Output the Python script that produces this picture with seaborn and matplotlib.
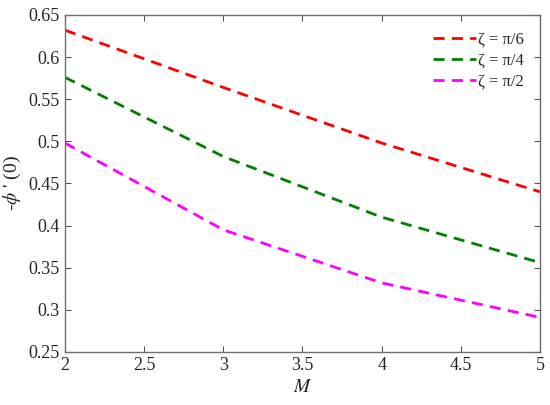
import matplotlib
matplotlib.use("Agg")
import matplotlib.pyplot as plt
import seaborn as sns
import pandas as pd

M = [2, 3, 4, 5]
zeta_pi6 = [0.632, 0.564, 0.498, 0.440]
zeta_pi4 = [0.576, 0.482, 0.410, 0.356]
zeta_pi2 = [0.498, 0.395, 0.332, 0.291]
labels = ["ζ = π/6", "ζ = π/4", "ζ = π/2"]
colors = ["#ff0000", "#008000", "#ff00ff"]

df = pd.DataFrame({
    "M": M * 3,
    "value": zeta_pi6 + zeta_pi4 + zeta_pi2,
    "case": [labels[0]] * 4 + [labels[1]] * 4 + [labels[2]] * 4,
})

sns.set_style("white")
plt.rcParams["font.family"] = ["Liberation Serif", "DejaVu Serif"]
plt.rcParams["mathtext.fontset"] = "stix"

fig = plt.figure(figsize=(5.5, 4.05), dpi=100)
ax = fig.add_axes([0.118, 0.131, 0.864, 0.832])

for lab, col in zip(labels, colors):
    sns.lineplot(data=df[df["case"] == lab], x="M", y="value", color=col,
                 linewidth=2, label=lab, ax=ax, dashes=False)
for line in ax.get_lines():
    line.set_dashes((4, 2.6))

ax.set_xlim(2, 5)
ax.set_ylim(0.25, 0.65)
ax.set_xticks([2, 2.5, 3, 3.5, 4, 4.5, 5])
ax.set_xticklabels(["2", "2.5", "3", "3.5", "4", "4.5", "5"])
ax.set_yticks([0.25, 0.3, 0.35, 0.4, 0.45, 0.5, 0.55, 0.6, 0.65])
ax.set_yticklabels(["0.25", "0.3", "0.35", "0.4", "0.45", "0.5", "0.55", "0.6", "0.65"])
ax.tick_params(direction="in", length=4, width=0.8, color="#555555",
               labelsize=13, top=True, right=True, bottom=True, left=True)
for s in ax.spines.values():
    s.set_color("#6e6e6e")
    s.set_linewidth(1.0)

ax.set_xlabel("$M$", fontsize=14)
ax.set_ylabel("-$\\phi$ ' (0)", fontsize=14)

leg = ax.legend(loc="upper right", frameon=False, fontsize=12, handlelength=2.6,
                handletextpad=0.1, labelspacing=0.3, borderaxespad=0.6)
for h in leg.get_lines():
    h.set_dashes((4, 2.6))

fig.savefig("out.png", dpi=100)
